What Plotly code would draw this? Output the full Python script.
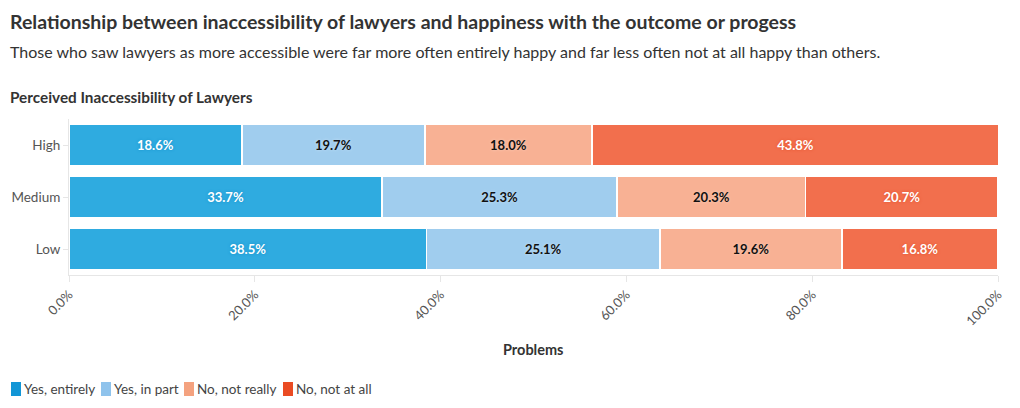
import plotly.graph_objects as go

categories = ["Low", "Medium", "High"]
series_names = ["Yes, entirely", "Yes, in part", "No, not really", "No, not at all"]
yes_entirely = [38.5, 33.7, 18.6]
yes_in_part = [25.1, 25.3, 19.7]
no_not_really = [19.6, 20.3, 18.0]
no_not_at_all = [16.8, 20.7, 43.8]
tick_values = [0, 20, 40, 60, 80, 100]
tick_labels = ["0.0%", "20.0%", "40.0%", "60.0%", "80.0%", "100.0%"]

colors = ["#2fabe0", "#a0cdee", "#f8b194", "#f26f4d"]
legend_colors = ["#1296d6", "#8fc3ec", "#f4a27f", "#ea4b23"]
text_colors = ["#ffffff", "#111111", "#111111", "#ffffff"]
shadows = ["0 0 3px #1590c8", "0 0 3px #c8e2f6", "0 0 3px #fbd0bd", "0 0 3px #e2502b"]

FONT = "Lato, sans-serif"
OFF = 8  # page body margin offset
W, H = 1020 - OFF, 408 - OFF
L, T = 69 - OFF, 119 - OFF
R, B = 1020 - 998, 408 - 275
PW, PH = W - L - R, H - T - B

def px(x):
    return (x - OFF - L) / PW

def py(y):
    return 1 - (y - OFF - T) / PH

fig = go.Figure()
for name, vals, c, tc, sh in zip(series_names,
                                  [yes_entirely, yes_in_part, no_not_really, no_not_at_all],
                                  colors, text_colors, shadows):
    fig.add_trace(go.Bar(
        name=name, y=categories, x=vals, orientation="h",
        marker=dict(color=c, line=dict(color="white", width=1.5)),
        text=vals, texttemplate="%{x:.1f}%", textposition="inside",
        insidetextanchor="middle",
        textfont=dict(family=FONT, size=13, color=tc, weight="bold", shadow=sh),
        hoverinfo="skip", showlegend=False,
    ))

fig.update_layout(
    barmode="stack",
    bargap=0.19,
    width=W, height=H,
    paper_bgcolor="white", plot_bgcolor="white",
    margin=dict(l=L, r=R, t=T, b=B, autoexpand=False),
    font=dict(family=FONT, color="#444444"),
    showlegend=False,
    uniformtext=dict(minsize=8, mode="show"),
)
fig.update_xaxes(range=[0, 100], tickvals=tick_values, ticktext=tick_labels,
                 tickangle=-45, showgrid=False, showline=True, linecolor="#e6e6e6",
                 ticks="outside", ticklen=6, tickcolor="#e6e6e6", automargin=False,
                 tickfont=dict(size=13, color="#555555"), zeroline=False, fixedrange=True)
fig.update_yaxes(showgrid=False, showline=True, linecolor="#e6e6e6",
                 ticks="outside", ticklen=5, tickcolor="#e6e6e6", automargin=False,
                 tickfont=dict(size=13.5, color="#555555"), fixedrange=True)

def text(s, x, y, size, anchor="left", color="#333333"):
    fig.add_annotation(text=s, xref="paper", yref="paper", x=px(x), y=py(y),
                       xanchor=anchor, yanchor="middle", showarrow=False,
                       font=dict(size=size, color=color, family=FONT))

text("<b>Relationship between inaccessibility of lawyers and happiness with the outcome or progess</b>", 8, 21, 19.5)
text("Those who saw lawyers as more accessible were far more often entirely happy and far less often not at all happy than others.", 8, 51, 16)
text("<b>Perceived Inaccessibility of Lawyers</b>", 8, 97, 15.3)
text("<b>Problems</b>", 533, 349, 14.5, anchor="center")

# legend
legend_x = [11, 101, 184, 283]
for name, c, lx in zip(series_names, legend_colors, legend_x):
    fig.add_shape(type="rect", xref="paper", yref="paper",
                  x0=px(lx), x1=px(lx + 10), y0=py(396), y1=py(382),
                  fillcolor=c, line=dict(width=0), layer="above")
    text(name, lx + 11, 389, 13.5, color="#444444")

fig.write_html("out.html")
